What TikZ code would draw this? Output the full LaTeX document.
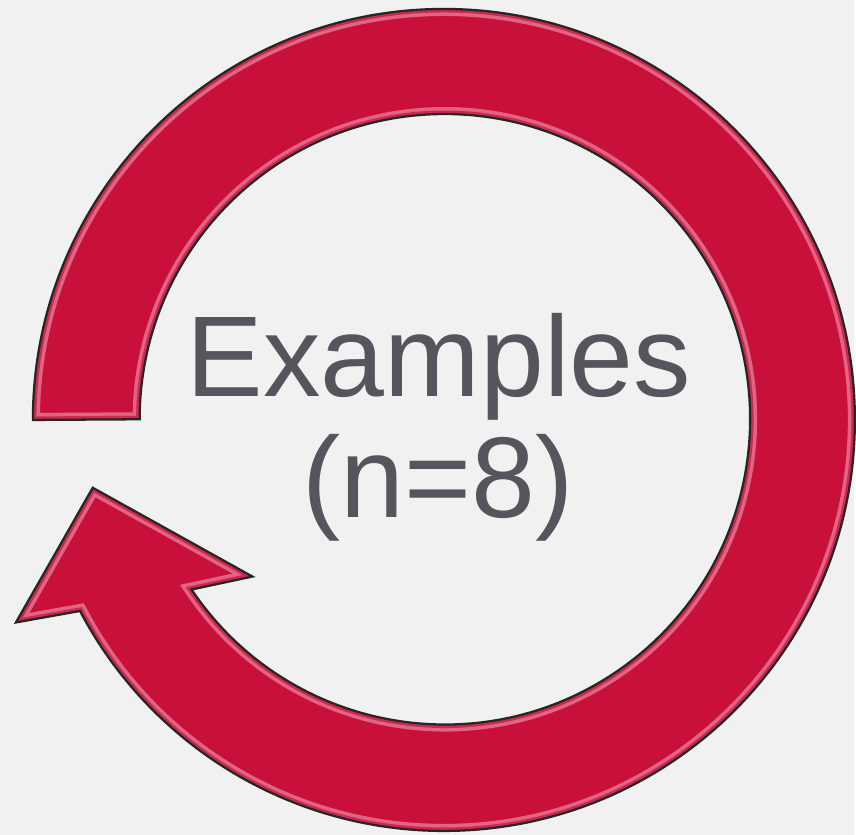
\documentclass[tikz,border=0pt]{standalone}
\usepackage{fontspec}
\setmainfont{Liberation Sans}
\usepackage{tikz}
\usepackage{xcolor}
\definecolor{Cycle_Red}{HTML}{C8103A}
\definecolor{Cycle_Edge}{HTML}{D1274F}
\definecolor{Cycle_Shine}{HTML}{E06582}
\definecolor{Cycle_Text}{HTML}{55565B}
\definecolor{Cycle_Bg}{HTML}{F1F1F1}

\begin{document}
\begin{tikzpicture}[
    x=0.02cm, y=0.02cm,
    label/.style={font=\fontsize{65.5}{78}\selectfont, text=Cycle_Text, inner sep=0pt, anchor=base}
]
\fill[Cycle_Bg] (0,0) rectangle (856,837);
% circular arrow, centre (445,416), radii 412 and 306
\def\cyclepath{(33,416) arc[start angle=180, end angle=-152.3, radius=412]
    -- (16,213) -- (93,348) -- (253,259) -- (192,246)
    arc[start angle=-146.1, end angle=180, radius=306] -- cycle}
\fill[Cycle_Red] \cyclepath;
\begin{scope}
    \clip \cyclepath;
    \draw[Cycle_Shine, line width=8] \cyclepath;
    \draw[Cycle_Edge, line width=4] \cyclepath;
\end{scope}
\draw[black!85, line width=1.3, line join=miter] \cyclepath;
\node[label] (title) at (440,439) {Examples};
\node[label] (count) at (439,318) {(n=8)};
\end{tikzpicture}
\end{document}
